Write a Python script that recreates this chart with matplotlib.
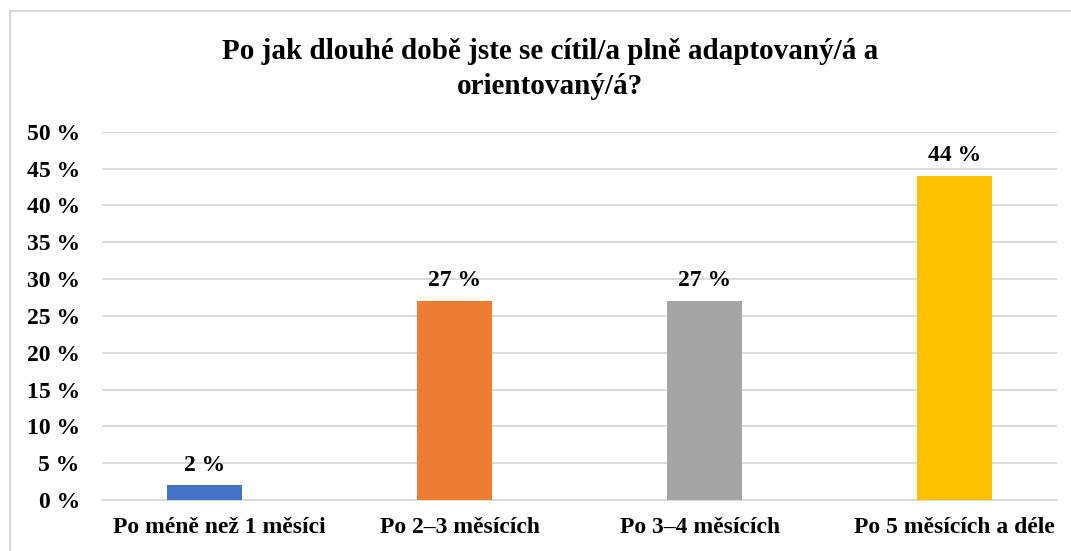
import matplotlib
matplotlib.use('Agg')
import matplotlib.pyplot as plt
import matplotlib.transforms as mtrans
from matplotlib.patches import Rectangle

# ── data ─────────────────────────────────────────────────────────────────────
categories = ['Po méně než 1 měsíci', 'Po 2–3 měsících', 'Po 3–4 měsících',
              'Po 5 měsících a déle']
values = [2, 27, 27, 44]
colors = ['#4472C4', '#ED7D31', '#A5A5A5', '#FFC000']
yticks = [0, 5, 10, 15, 20, 25, 30, 35, 40, 45, 50]

W, H = 1071, 551
plt.rcParams['font.family'] = ['Liberation Serif', 'DejaVu Serif']
plt.rcParams['font.weight'] = 'bold'

fig = plt.figure(figsize=(W / 100, H / 100), dpi=100)
fig.patch.set_facecolor('white')

# chart-area border (cut off at right/bottom like the reference)
fig.add_artist(Rectangle((10 / W, -0.1), 1.5, (H - 11) / H + 0.1,
                         transform=fig.transFigure, fill=False,
                         edgecolor='#D9D9D9', lw=1.5))

ax = fig.add_axes([102 / W, 51 / H, (1057 - 102) / W, (500 - 131.7) / H])
x = list(range(len(categories)))
ax.bar(x, values, width=0.3, color=colors, zorder=3)
ax.set_xlim(-0.412, 3.41)
ax.set_ylim(0, 50)
ax.set_yticks(yticks)
ax.set_yticklabels([f'{v} %' for v in yticks], fontsize=17, fontweight='bold')
ax.set_xticks(x)
ax.set_xticklabels(categories, fontsize=17, fontweight='bold')
ax.tick_params(axis='y', length=0, pad=16)
ax.tick_params(axis='x', length=0, pad=12)
ax.grid(axis='y', color='#D9D9D9', lw=1.3, zorder=0)
for s in ['top', 'right', 'left']:
    ax.spines[s].set_visible(False)
ax.spines['bottom'].set_color('#D9D9D9')
ax.spines['bottom'].set_linewidth(1.3)

# small horizontal nudges of the category labels (pixels), as in the original
for lbl, dx in zip(ax.get_xticklabels(), [14, 5, -5, 0]):
    lbl.set_transform(lbl.get_transform() +
                      mtrans.ScaledTranslation(dx / 100, 0, fig.dpi_scale_trans))

for xi, v in zip(x, values):
    ax.annotate(f'{v} %', (xi, v), xytext=(0, 7), textcoords='offset points',
                ha='center', va='bottom', fontsize=17, fontweight='bold')

fig.text(550 / W, 1 - 69 / H,
         'Po jak dlouhé době jste se cítil/a plně adaptovaný/á a\norientovaný/á?',
         ha='center', va='center', fontsize=21, fontweight='bold',
         linespacing=1.35)

fig.savefig('out.png', dpi=100, facecolor='white')
